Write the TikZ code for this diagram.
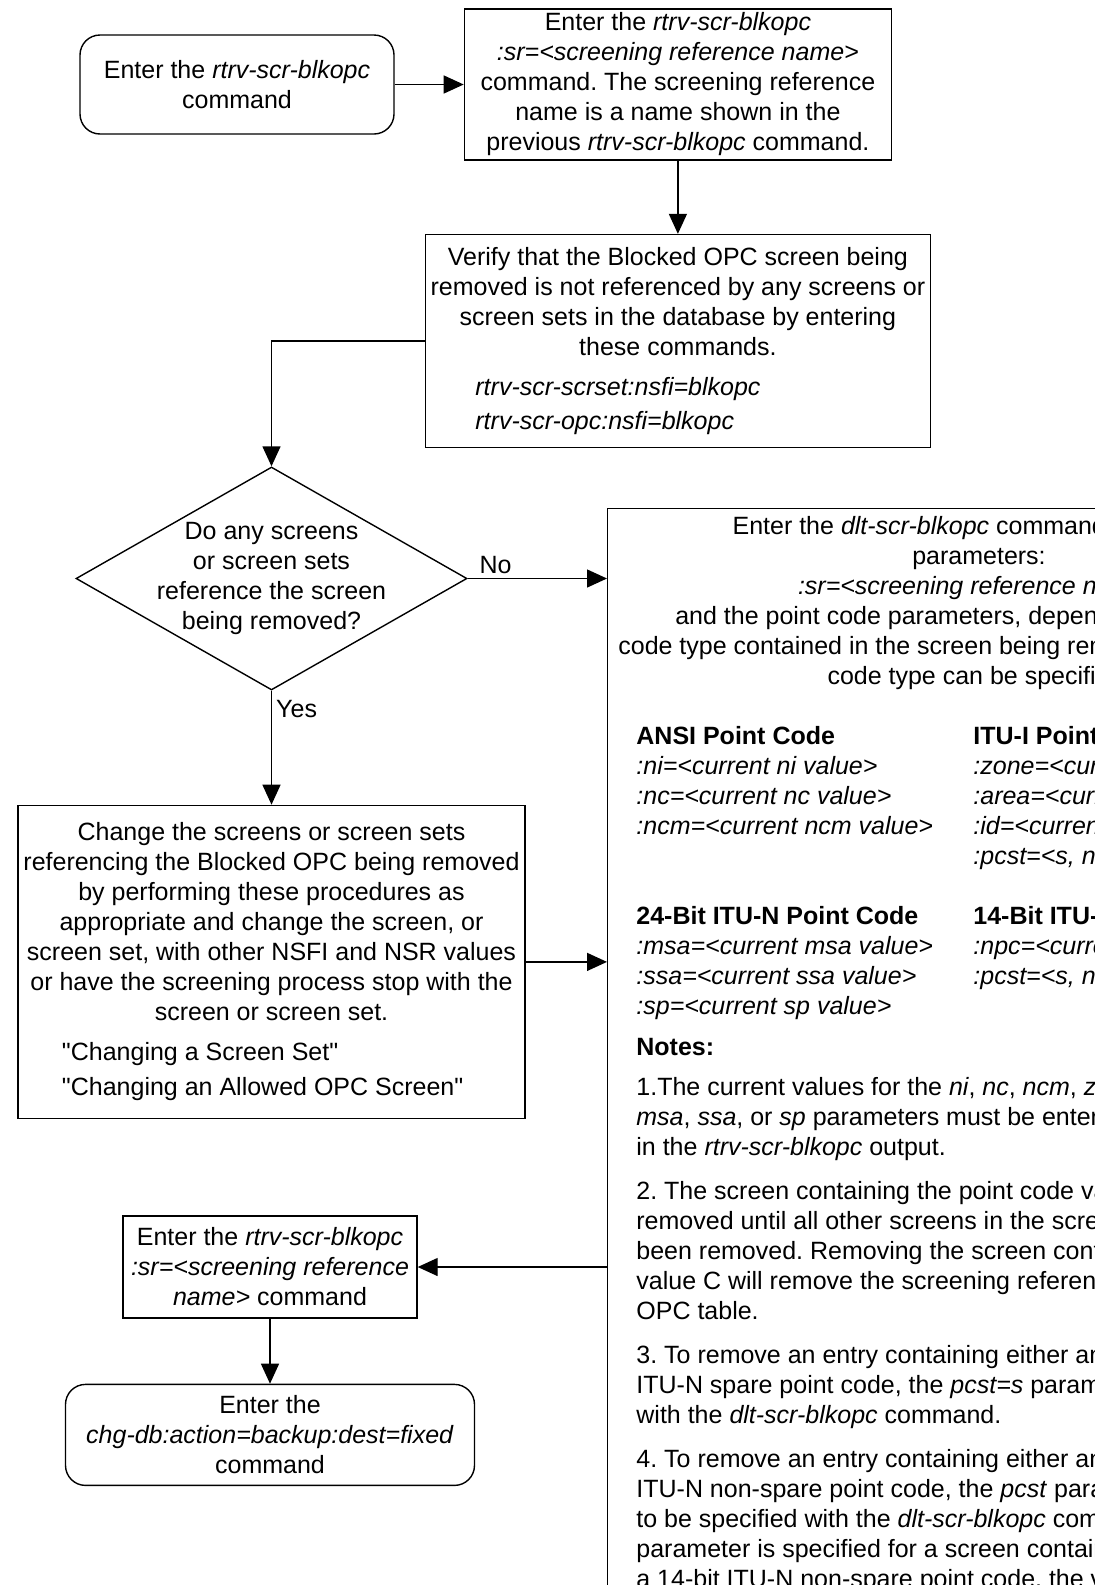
\documentclass[tikz,border=0pt]{standalone}
\usepackage{fontspec}
\setmainfont{Liberation Sans}[Ligatures=TeXOff]
\usetikzlibrary{positioning,arrows.meta,shapes.geometric}
\tikzset{
  base/.style     = {draw=black, line width=0.7pt, align=center, inner sep=2pt,
                     font=\fontsize{12.5}{15}\selectfont},
  term/.style     = {base, rectangle, rounded corners=10pt},
  proc/.style     = {base, rectangle},
  decision/.style = {base, diamond, inner sep=0pt},
  txt/.style      = {font=\fontsize{12.5}{15}\selectfont, inner sep=0pt, align=left},
  lbl/.style      = {font=\fontsize{12.5}{15}\selectfont, inner sep=2pt},
  flow/.style     = {-{Triangle[length=10pt,width=9pt]}, line width=0.7pt},
}
\frenchspacing
\begin{document}
\begin{tikzpicture}[x=0.5pt, y=-0.5pt]
  \useasboundingbox (0,0) rectangle (1095,1585);
  \clip (0,0) rectangle (1095,1585);

  \node[term, minimum width=157pt, minimum height=49.5pt] (start) at (237,84.5)
    {Enter the \textit{rtrv-scr-blkopc}\\command};
  \node[proc, minimum width=213.5pt, minimum height=75.5pt, right=34.5pt of start] (sr)
    {Enter the \textit{rtrv-scr-blkopc}\\\textit{:sr=<screening reference name>}\\
     command. The screening reference\\name is a name shown in the\\
     previous \textit{rtrv-scr-blkopc} command.};
  \node[proc, minimum width=252.5pt, minimum height=106.5pt, below=36.5pt of sr] (verify)
    {Verify that the Blocked OPC screen being\\removed is not referenced by any screens or\\
     screen sets in the database by entering\\these commands.\\[5pt]
     \makebox[248.5pt][l]{\hspace*{23pt}\textit{rtrv-scr-scrset:nsfi=blkopc}}\\[2pt]
     \makebox[248.5pt][l]{\hspace*{23pt}\textit{rtrv-scr-opc:nsfi=blkopc}}};
  \node[decision, minimum width=195.5pt, minimum height=111.5pt,
        label={[lbl, align=center]center:Do any screens\\or screen sets\\reference the screen\\being removed?}]
    (refd) at (271.5,578.5) {};
  \node[proc, minimum width=253.5pt, minimum height=156.5pt, below=57pt of refd] (change)
    {Change the screens or screen sets\\referencing the Blocked OPC being removed\\
     by performing these procedures as\\appropriate and change the screen, or\\
     screen set, with other NSFI and NSR values\\or have the screening process stop with the\\
     screen or screen set.\\[5pt]
     \makebox[249.5pt][l]{\hspace*{20pt}"Changing a Screen Set"}\\[2.5pt]
     \makebox[249.5pt][l]{\hspace*{20pt}"Changing an Allowed OPC Screen"}};

  % dlt-scr-blkopc box, runs off the page
  \node[draw, line width=0.7pt, inner sep=0pt, minimum width=372pt, minimum height=566pt,
        anchor=north west] (dlt) at (607,508) {};
  \node[txt, align=center, anchor=north] (dlthead) at (979,516)
    {Enter the \textit{dlt-scr-blkopc} command with these\\parameters:\\
     \textit{:sr=<screening reference name>}\\
     and the point code parameters, depending on the point\\
     code type contained in the screen being removed. Only one point\\
     code type can be specified.};
  \node[txt, anchor=north west] (ansi) at (636,726)
    {\textbf{ANSI Point Code}\\\textit{:ni=<current ni value>}\\
     \textit{:nc=<current nc value>}\\\textit{:ncm=<current ncm value>}};
  \node[txt, anchor=north west] (itui) at (973,726)
    {\textbf{ITU-I Point Code}\\\textit{:zone=<current zone value>}\\
     \textit{:area=<current area value>}\\\textit{:id=<current id value>}\\
     \textit{:pcst=<s, none>}};
  \node[txt, anchor=north west] (itun24) at (636,906)
    {\textbf{24-Bit ITU-N Point Code}\\\textit{:msa=<current msa value>}\\
     \textit{:ssa=<current ssa value>}\\\textit{:sp=<current sp value>}};
  \node[txt, anchor=north west] (itun14) at (973,906)
    {\textbf{14-Bit ITU-N Point Code}\\\textit{:npc=<current npc value>}\\
     \textit{:pcst=<s, none>}};
  \node[txt, anchor=north west] (notes) at (636,1038)
    {\textbf{Notes:}\\[5pt]
     1.The current values for the \textit{ni}, \textit{nc}, \textit{ncm}, \textit{zone}, \textit{area}, \textit{id}, \textit{npc},\\
     \textit{msa}, \textit{ssa}, or \textit{sp} parameters must be entered as shown\\
     in the \textit{rtrv-scr-blkopc} output.\\[7pt]
     2. The screen containing the point code value C cannot be\\
     removed until all other screens in the screening reference have\\
     been removed. Removing the screen containing the point code\\
     value C will remove the screening reference from the Blocked\\
     OPC table.\\[7pt]
     3. To remove an entry containing either an ITU-I or a 14-bit\\
     ITU-N spare point code, the \textit{pcst=s} parameter must be specified\\
     with the \textit{dlt-scr-blkopc} command.\\[7pt]
     4. To remove an entry containing either an ITU-I or a 14-bit\\
     ITU-N non-spare point code, the \textit{pcst} parameter does not have\\
     to be specified with the \textit{dlt-scr-blkopc} command. If the \textit{pcst}\\
     parameter is specified for a screen containing either an ITU-I or\\
     a 14-bit ITU-N non-spare point code, the value must be \textit{none}.};

  \node[proc, minimum width=147pt, minimum height=51pt] (rtrv) at (270,1267)
    {Enter the \textit{rtrv-scr-blkopc}\\\textit{:sr=<screening reference}\\\textit{name>} command};
  \node[term, minimum width=204.5pt, minimum height=50.5pt, below=32.5pt of rtrv] (backup)
    {Enter the\\\textit{chg-db:action=backup:dest=fixed}\\command};

  \draw[flow] (start) -- (sr);
  \draw[flow] (sr) -- (verify);
  \draw[flow] (verify.west) -| (refd.north);
  \draw[flow] (refd.east) -- node[lbl, above, pos=0.2]{No} (dlt.west |- refd.east);
  \draw[flow] (refd.south) -- node[lbl, right, pos=0.16]{Yes} (change.north);
  \draw[flow] (change.east) -- (dlt.west |- change.east);
  \draw[flow] (dlt.west |- rtrv.east) -- (rtrv.east);
  \draw[flow] (rtrv) -- (backup);
\end{tikzpicture}
\end{document}
